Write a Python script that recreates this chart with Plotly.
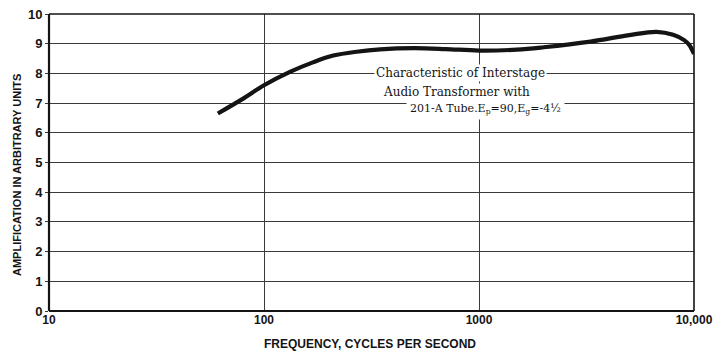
import plotly.graph_objects as go

# Frequency response of an interstage audio transformer (201-A tube)
freq_hz = [61, 80, 100, 132, 170, 210, 270, 347, 500, 700, 1000, 1500, 2000,
           3300, 5000, 6700, 8000, 9000, 9500, 10000]
amplification = [6.65, 7.15, 7.6, 8.05, 8.38, 8.6, 8.73, 8.81, 8.85, 8.82, 8.77,
                 8.8, 8.88, 9.07, 9.29, 9.4, 9.3, 9.12, 8.96, 8.66]

x_tick_vals = [10, 100, 1000, 10000]
x_tick_text = ["<b>10</b>", "<b>100</b>", "<b>1000</b>", "<b>10,000</b>"]
y_tick_vals = list(range(0, 11))
y_tick_text = [f"<b>{v}</b>" for v in y_tick_vals]

ink = "#141414"
grid = "#3a3a3a"
label_font = dict(family="Liberation Sans Narrow, Liberation Sans, Arial", size=12, color=ink)

fig = go.Figure()
fig.add_trace(go.Scatter(
    x=freq_hz, y=amplification, mode="lines",
    line=dict(color=ink, width=4.2, shape="spline", smoothing=1.0),
    hoverinfo="skip", showlegend=False,
))

fig.update_layout(
    width=714, height=356,
    margin=dict(l=49, r=20, t=14, b=45, autoexpand=False),
    paper_bgcolor="white", plot_bgcolor="white",
    xaxis=dict(
        type="log", range=[1, 4], automargin=False,
        tickvals=x_tick_vals, ticktext=x_tick_text,
        showgrid=True, gridcolor=grid, gridwidth=1,
        zeroline=False, showline=False,
        ticks="", tickfont=dict(label_font, size=12),
    ),
    yaxis=dict(
        range=[0, 10], automargin=False,
        tickvals=y_tick_vals, ticktext=y_tick_text,
        showgrid=True, gridcolor=grid, gridwidth=1,
        zeroline=False, showline=False,
        ticks="outside", ticklen=3, tickcolor=grid,
        tickfont=dict(label_font, size=13),
    ),
)

# Axis titles placed in paper coordinates
fig.add_annotation(
    text="<b>FREQUENCY, CYCLES PER SECOND</b>", xref="paper", yref="paper",
    x=0.498, y=-0.111, showarrow=False, font=dict(label_font, size=12),
    xanchor="center", yanchor="middle",
)
fig.add_annotation(
    text="<b>AMPLIFICATION IN ARBITRARY UNITS</b>", xref="paper", yref="paper",
    x=-0.0496, y=0.458, showarrow=False, textangle=-90,
    font=dict(label_font, size=11), xanchor="center", yanchor="middle",
)

# Plot frame: heavier left and bottom edges
frame = [
    (0, 0, 0, 1, 2.2),   # left
    (0, 0, 1, 0, 2.2),   # bottom
    (0, 1, 1, 1, 1.3),   # top
    (1, 0, 1, 1, 1.6),   # right
]
for x0, y0, x1, y1, w in frame:
    fig.add_shape(type="line", xref="paper", yref="paper",
                  x0=x0, y0=y0, x1=x1, y1=y1,
                  line=dict(color=ink, width=w))

# Caption block over the grid (log axis: annotation x is log10 of frequency)
caption_font = dict(family="DejaVu Serif, Liberation Serif, serif", size=12, color=ink)
caption = [
    ("Characteristic of Interstage", 3 - 19 / 215, 8.0, 12, 1),
    ("Audio Transformer with", 3 - 23 / 215, 7.38, 12, 1),
    ("201-A Tube.E<sub>p</sub>=90,E<sub>g</sub>=-4½", 3 + 6 / 215, 6.8, 11, 3),
]
for text, xv, yv, size, pad in caption:
    fig.add_annotation(
        x=xv, y=yv, xref="x", yref="y", text=text, showarrow=False,
        font=dict(caption_font, size=size), bgcolor="white", borderpad=pad,
        xanchor="center", yanchor="middle",
    )

fig.write_html("out.html")
